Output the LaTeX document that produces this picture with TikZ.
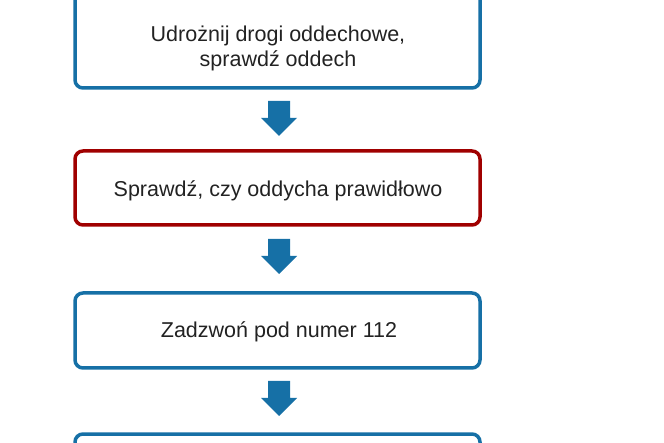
\documentclass[tikz,border=0pt]{standalone}
\usepackage{fontspec}
\setmainfont{Liberation Sans}
\definecolor{bblue}{HTML}{1670A6}
\definecolor{bred}{HTML}{A00000}
\definecolor{txt}{HTML}{222222}
\begin{document}
\begin{tikzpicture}[x=1pt,y=-1pt,
  box/.style={draw=bblue,line width=3.5pt,rounded corners=8pt,fill=white},
  lbl/.style={font=\fontsize{21.5}{25}\selectfont,text=txt,align=center},
  barrow/.style={fill=bblue,draw=none}]
\useasboundingbox (0,0) rectangle (664,443);
\draw[box] (75,-20) rectangle (480,88);
\node[lbl] (t1) at (278,48) {Udrożnij drogi oddechowe,\\sprawdź oddech};
\draw[box,draw=bred] (75,151) rectangle (480,225);
\node[lbl] (t2) at (278,191) {Sprawdź, czy oddycha prawidłowo};
\draw[box] (75,293) rectangle (480,368);
\node[lbl] (t3) at (279,332) {Zadzwoń pod numer 112};
\draw[box] (75,434) rectangle (480,480);
\foreach \y in {101,239,381}{
  \fill[barrow] (268,\y) -- (290,\y) -- (290,\y+17) -- (297,\y+17) -- (279,\y+35) -- (261,\y+17) -- (268,\y+17) -- cycle;
}
\end{tikzpicture}
\end{document}
